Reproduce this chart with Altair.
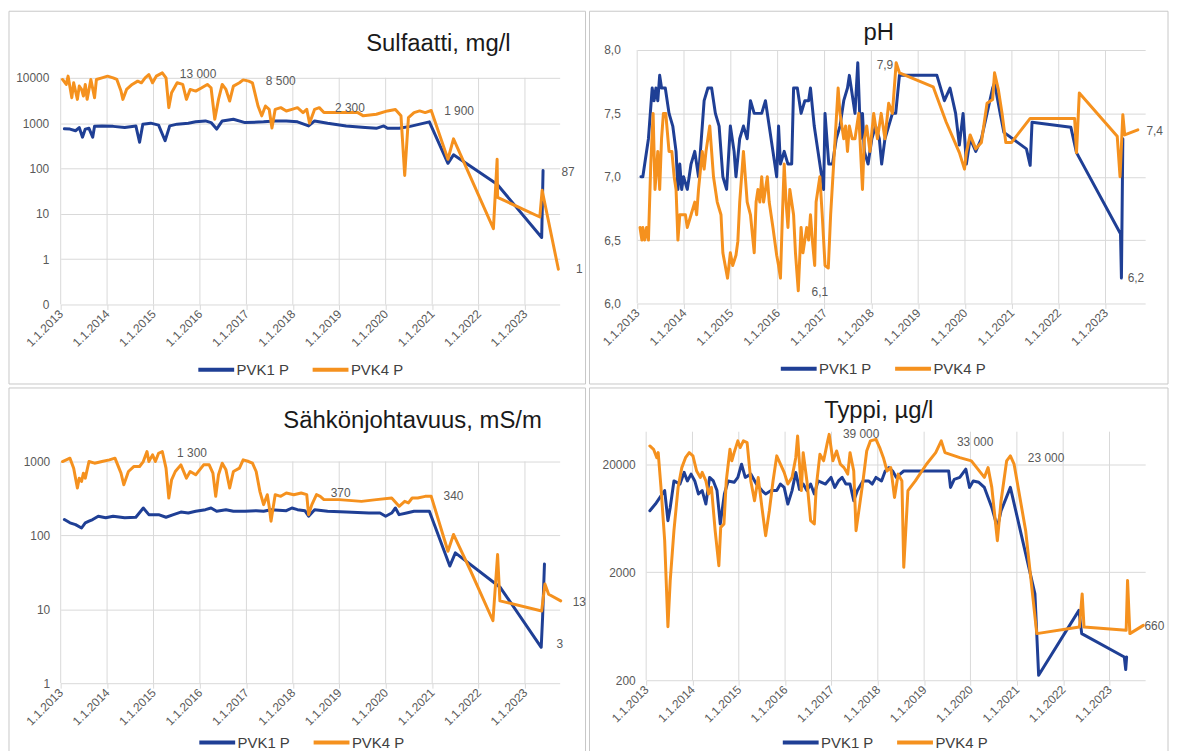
import altair as alt
import pandas as pd

BLUE = "#1f3f95"
ORANGE = "#f5911e"
GRID = "#d9d9d9"
FRAME = "#c8c8c8"
TXT = "#595959"
FONT = "Liberation Sans"
SERIES = ["PVK1 P", "PVK4 P"]
YEARS = list(range(2013, 2024))

# ---------------- Sulfaatti, mg/l ----------------
sulf_pvk1 = [(2013.08, 750), (2013.20, 740), (2013.32, 680), (2013.40, 800), (2013.47, 490), (2013.53, 740),
             (2013.61, 770), (2013.69, 490), (2013.73, 850), (2013.89, 870), (2014.13, 850), (2014.38, 800),
             (2014.62, 870), (2014.70, 380), (2014.77, 950), (2014.94, 1000), (2015.11, 905), (2015.25, 410),
             (2015.35, 870), (2015.51, 950), (2015.75, 1000), (2015.91, 1070), (2016.12, 1120), (2016.24, 1030),
             (2016.36, 740), (2016.48, 1120), (2016.72, 1220), (2016.97, 1030), (2017.37, 1070), (2017.62, 1120),
             (2017.86, 1120), (2018.10, 1070), (2018.34, 870), (2018.47, 1120), (2018.75, 1000), (2019.15, 870),
             (2019.56, 800), (2019.80, 770), (2019.96, 870), (2020.04, 770), (2020.29, 770), (2020.53, 850),
             (2020.94, 1070), (2021.34, 130), (2021.46, 200), (2022.40, 45), (2023.36, 3), (2023.39, 90)]
sulf_pvk4 = [(2013.04, 9200), (2013.12, 7150), (2013.16, 10900), (2013.24, 3650), (2013.28, 7770), (2013.36, 3350),
             (2013.40, 6570), (2013.45, 5550), (2013.49, 3970), (2013.53, 7150), (2013.57, 3350), (2013.65, 9200),
             (2013.73, 3650), (2013.77, 9200), (2013.89, 10000), (2014.01, 10880), (2014.13, 10000), (2014.21, 9200),
             (2014.30, 5100), (2014.34, 3350), (2014.42, 5550), (2014.54, 7150), (2014.66, 8450), (2014.74, 7770),
             (2014.82, 10000), (2014.90, 11830), (2014.98, 7770), (2015.06, 10880), (2015.19, 12870), (2015.27, 10000),
             (2015.33, 2200), (2015.39, 4690), (2015.51, 7770), (2015.63, 7150), (2015.71, 3350), (2015.79, 5550),
             (2015.91, 5100), (2016.04, 6040), (2016.16, 7150), (2016.24, 6040), (2016.32, 1220), (2016.40, 3350),
             (2016.48, 7150), (2016.56, 5550), (2016.64, 3080), (2016.72, 6570), (2016.85, 7770), (2016.93, 9000),
             (2017.05, 8450), (2017.13, 7770), (2017.25, 2390), (2017.33, 1450), (2017.41, 2390), (2017.49, 2020),
             (2017.55, 780), (2017.62, 2020), (2017.74, 2200), (2017.86, 1860), (2017.98, 2020), (2018.10, 2200),
             (2018.22, 1710), (2018.30, 2020), (2018.36, 1000), (2018.47, 2020), (2018.57, 2200), (2018.67, 1710),
             (2019.00, 1710), (2019.40, 1710), (2019.52, 1450), (2019.80, 1570), (2020.04, 1860), (2020.21, 2000),
             (2020.33, 1450), (2020.41, 70), (2020.49, 1330), (2020.61, 1710), (2020.73, 1860), (2020.85, 1710),
             (2020.98, 1900), (2021.34, 160), (2021.46, 450), (2022.32, 4.7), (2022.40, 160), (2022.41, 23),
             (2023.32, 8.5), (2023.37, 33), (2023.72, 0.6)]
sulf_labels = [("13 000", 2015.96, 11830), ("8 500", 2017.74, 8450), ("2 300", 2019.23, 2200),
               ("1 900", 2021.58, 1860), ("87", 2023.93, 83), ("1", 2024.17, 0.62)]

# ---------------- pH ----------------
ph_pvk1 = [(2013.08, 7.0), (2013.12, 7.0), (2013.24, 7.3), (2013.32, 7.7), (2013.36, 7.6), (2013.40, 7.7),
           (2013.44, 7.6), (2013.48, 7.8), (2013.52, 7.7), (2013.60, 7.7), (2013.68, 7.5), (2013.76, 7.4),
           (2013.83, 7.2), (2013.87, 6.9), (2013.91, 7.1), (2013.95, 6.9), (2013.99, 7.0), (2014.07, 6.9),
           (2014.15, 7.1), (2014.23, 7.2), (2014.31, 7.0), (2014.39, 7.4), (2014.43, 7.6), (2014.51, 7.7),
           (2014.59, 7.7), (2014.67, 7.5), (2014.75, 7.4), (2014.83, 7.0), (2014.91, 6.9), (2014.99, 7.4),
           (2015.07, 7.2), (2015.11, 7.0), (2015.19, 7.3), (2015.27, 7.4), (2015.35, 7.3), (2015.42, 7.6),
           (2015.50, 7.5), (2015.58, 7.5), (2015.66, 7.5), (2015.74, 7.6), (2015.82, 7.4), (2015.90, 7.2),
           (2015.98, 7.0), (2016.02, 7.4), (2016.06, 7.1), (2016.14, 7.2), (2016.22, 7.1), (2016.30, 7.1),
           (2016.34, 7.7), (2016.42, 7.7), (2016.50, 7.5), (2016.58, 7.6), (2016.66, 7.6), (2016.70, 7.7),
           (2016.78, 7.4), (2016.86, 7.2), (2016.94, 7.0), (2016.98, 6.9), (2017.01, 7.5), (2017.09, 7.1),
           (2017.17, 7.1), (2017.25, 7.3), (2017.33, 7.4), (2017.41, 7.6), (2017.49, 7.7), (2017.53, 7.8),
           (2017.57, 7.7), (2017.65, 7.5), (2017.71, 7.9), (2017.77, 7.3), (2017.81, 7.5), (2017.85, 7.2),
           (2017.93, 7.1), (2018.01, 7.3), (2018.09, 7.4), (2018.17, 7.3), (2018.22, 7.1), (2018.29, 7.3),
           (2018.37, 7.4), (2018.45, 7.5), (2018.52, 7.5), (2018.60, 7.8), (2019.40, 7.8), (2019.56, 7.6),
           (2019.68, 7.7), (2019.80, 7.5), (2019.88, 7.25), (2019.96, 7.5), (2020.03, 7.1), (2020.11, 7.3),
           (2020.23, 7.2), (2020.35, 7.3), (2020.47, 7.5), (2020.59, 7.7), (2020.63, 7.74), (2020.75, 7.5),
           (2020.83, 7.35), (2021.31, 7.22), (2021.39, 7.09), (2021.43, 7.43), (2022.26, 7.39), (2022.38, 7.19),
           (2023.32, 6.55), (2023.34, 6.2), (2023.37, 7.3)]
ph_pvk4 = [(2013.06, 6.6), (2013.10, 6.5), (2013.12, 6.6), (2013.16, 6.5), (2013.20, 6.6), (2013.24, 6.5),
           (2013.29, 7.1), (2013.34, 7.5), (2013.38, 6.9), (2013.44, 7.2), (2013.48, 6.9), (2013.52, 7.3),
           (2013.56, 7.5), (2013.61, 7.5), (2013.68, 7.2), (2013.74, 7.2), (2013.79, 7.0), (2013.83, 6.9),
           (2013.87, 6.5), (2013.91, 6.7), (2013.99, 6.7), (2014.03, 6.7), (2014.07, 6.6), (2014.15, 6.7),
           (2014.23, 6.8), (2014.27, 6.7), (2014.31, 6.9), (2014.39, 7.2), (2014.43, 7.06), (2014.47, 7.2),
           (2014.55, 7.4), (2014.63, 7.0), (2014.71, 6.8), (2014.79, 6.7), (2014.83, 6.4), (2014.88, 6.3),
           (2014.93, 6.2), (2014.99, 6.4), (2015.04, 6.3), (2015.11, 6.38), (2015.15, 6.49), (2015.19, 6.8),
           (2015.27, 7.2), (2015.31, 7.0), (2015.35, 6.8), (2015.42, 6.7), (2015.50, 6.4), (2015.54, 6.8),
           (2015.58, 6.9), (2015.62, 6.8), (2015.66, 7.0), (2015.70, 6.8), (2015.74, 6.9), (2015.78, 7.0),
           (2015.82, 6.8), (2015.90, 6.6), (2015.98, 6.38), (2016.02, 6.3), (2016.06, 6.2), (2016.10, 6.67),
           (2016.14, 7.1), (2016.18, 6.8), (2016.22, 6.6), (2016.26, 6.9), (2016.34, 6.7), (2016.38, 6.4),
           (2016.44, 6.1), (2016.50, 6.6), (2016.54, 6.4), (2016.62, 6.6), (2016.66, 6.5), (2016.70, 6.7),
           (2016.74, 6.5), (2016.79, 6.3), (2016.82, 6.8), (2016.90, 7.0), (2016.95, 6.7), (2017.01, 6.3),
           (2017.08, 6.28), (2017.13, 6.7), (2017.21, 7.2), (2017.29, 7.7), (2017.33, 7.5), (2017.41, 7.3),
           (2017.45, 7.4), (2017.49, 7.2), (2017.53, 7.4), (2017.59, 7.3), (2017.65, 7.3), (2017.73, 7.5),
           (2017.81, 6.9), (2017.85, 7.3), (2017.90, 7.4), (2017.97, 7.2), (2018.05, 7.5), (2018.13, 7.3),
           (2018.21, 7.5), (2018.29, 7.3), (2018.37, 7.58), (2018.45, 7.5), (2018.53, 7.9), (2018.60, 7.82),
           (2019.32, 7.71), (2019.60, 7.43), (2019.88, 7.19), (2019.99, 7.06), (2020.03, 7.19), (2020.11, 7.33),
           (2020.23, 7.22), (2020.35, 7.27), (2020.47, 7.58), (2020.59, 7.61), (2020.63, 7.82), (2020.71, 7.69),
           (2020.79, 7.5), (2020.87, 7.27), (2020.99, 7.27), (2021.39, 7.46), (2022.34, 7.46), (2022.38, 7.19),
           (2022.44, 7.66), (2023.25, 7.32), (2023.31, 7.0), (2023.37, 7.49), (2023.41, 7.33), (2023.69, 7.37)]
ph_labels = [("7,9", 2018.29, 7.88), ("6,1", 2016.90, 6.09), ("6,2", 2023.65, 6.2), ("7,4", 2024.05, 7.36)]

# ---------------- Sähkönjohtavuus, mS/m ----------------
cond_pvk1 = [(2013.08, 164), (2013.20, 148), (2013.32, 140), (2013.45, 126), (2013.53, 148), (2013.61, 156),
             (2013.69, 164), (2013.81, 182), (2013.97, 173), (2014.13, 182), (2014.38, 173), (2014.62, 176),
             (2014.78, 235), (2014.90, 191), (2015.11, 191), (2015.27, 176), (2015.43, 191), (2015.59, 207),
             (2015.75, 201), (2015.91, 212), (2016.12, 223), (2016.24, 235), (2016.36, 212), (2016.56, 223),
             (2016.72, 212), (2016.97, 212), (2017.21, 216), (2017.37, 212), (2017.53, 223), (2017.86, 216),
             (2017.98, 235), (2018.10, 223), (2018.26, 216), (2018.34, 182), (2018.47, 223), (2018.75, 212),
             (2019.15, 207), (2019.64, 201), (2019.88, 201), (2020.00, 182), (2020.13, 201), (2020.21, 235),
             (2020.29, 191), (2020.45, 201), (2020.61, 212), (2020.94, 212), (2021.38, 38.5), (2021.50, 58),
             (2022.47, 19.7), (2023.35, 3.06), (2023.38, 7.8), (2023.42, 41)]
cond_pvk4 = [(2013.04, 1000), (2013.12, 1053), (2013.20, 1110), (2013.28, 813), (2013.36, 438), (2013.40, 596),
             (2013.45, 538), (2013.49, 696), (2013.53, 596), (2013.61, 1000), (2013.73, 950), (2013.89, 1000),
             (2014.05, 1053), (2014.17, 1110), (2014.30, 696), (2014.36, 485), (2014.46, 733), (2014.58, 857),
             (2014.70, 857), (2014.78, 1000), (2014.86, 1365), (2014.90, 1000), (2014.98, 1230), (2015.04, 1000),
             (2015.11, 1295), (2015.19, 1365), (2015.27, 813), (2015.33, 321), (2015.39, 566), (2015.47, 733),
             (2015.59, 902), (2015.71, 596), (2015.79, 733), (2015.91, 661), (2016.08, 902), (2016.20, 902),
             (2016.28, 696), (2016.34, 338), (2016.40, 661), (2016.48, 950), (2016.56, 772), (2016.64, 438),
             (2016.72, 733), (2016.85, 813), (2016.93, 1053), (2017.05, 1000), (2017.13, 950), (2017.21, 733),
             (2017.29, 395), (2017.37, 261), (2017.45, 356), (2017.49, 248), (2017.53, 156), (2017.62, 356),
             (2017.74, 338), (2017.86, 375), (2018.02, 356), (2018.18, 375), (2018.30, 356), (2018.34, 191),
             (2018.41, 261), (2018.51, 356), (2018.59, 338), (2018.67, 305), (2018.99, 305), (2019.48, 289),
             (2019.80, 305), (2020.13, 321), (2020.29, 248), (2020.41, 289), (2020.49, 275), (2020.57, 321),
             (2020.69, 321), (2020.85, 338), (2020.98, 338), (2021.34, 61), (2021.46, 103), (2021.83, 33),
             (2022.31, 7.0), (2022.41, 55), (2022.46, 13), (2023.36, 9.5), (2023.43, 22), (2023.51, 16),
             (2023.77, 13)]
cond_labels = [("1 300", 2015.83, 1295), ("370", 2019.03, 375), ("340", 2021.46, 338),
               ("13", 2024.17, 12.4), ("3", 2023.75, 3.4)]

# ---------------- Typpi, µg/l ----------------
n_pvk1 = [(2013.08, 7410), (2013.20, 8550), (2013.32, 10200), (2013.40, 11400), (2013.47, 6000), (2013.52, 7960),
          (2013.60, 14000), (2013.73, 13100), (2013.82, 16800), (2013.89, 14000), (2013.97, 16200), (2014.05, 14000),
          (2014.13, 10600), (2014.21, 11400), (2014.29, 8550), (2014.37, 15100), (2014.45, 14000), (2014.53, 11400),
          (2014.60, 5590), (2014.69, 10600), (2014.77, 14000), (2014.90, 13600), (2014.98, 15100), (2015.06, 20000),
          (2015.14, 15100), (2015.26, 16200), (2015.38, 13100), (2015.50, 11400), (2015.58, 10600), (2015.70, 11400),
          (2015.82, 11400), (2015.90, 13100), (2015.98, 12200), (2016.06, 8550), (2016.15, 11400), (2016.23, 16800),
          (2016.31, 11700), (2016.39, 13100), (2016.47, 11400), (2016.55, 13100), (2016.63, 10600), (2016.71, 14000),
          (2016.87, 13100), (2016.99, 15100), (2017.07, 12200), (2017.15, 14000), (2017.23, 15100), (2017.31, 13100),
          (2017.40, 13100), (2017.48, 9180), (2017.56, 11400), (2017.68, 14000), (2017.80, 14000), (2017.88, 13100),
          (2017.96, 15100), (2018.08, 14000), (2018.16, 17300), (2018.24, 18600), (2018.32, 17300), (2018.40, 15100),
          (2018.48, 16200), (2018.56, 17300), (2019.53, 17300), (2019.57, 12200), (2019.65, 14500), (2019.77, 15100),
          (2019.90, 18000), (2019.98, 12200), (2020.06, 14000), (2020.18, 13600), (2020.30, 12200), (2020.46, 7960),
          (2020.58, 5200), (2020.66, 7410), (2020.86, 12200), (2021.39, 1260), (2021.47, 222), (2022.34, 886),
          (2022.40, 540), (2023.32, 328), (2023.35, 251), (2023.37, 328)]
n_pvk4 = [(2013.08, 29500), (2013.16, 27500), (2013.23, 23000), (2013.26, 25600), (2013.32, 12200), (2013.40, 3920),
          (2013.47, 625), (2013.52, 1680), (2013.60, 4850), (2013.69, 12200), (2013.77, 18600), (2013.85, 23000),
          (2013.93, 25600), (2014.01, 23900), (2014.09, 17300), (2014.17, 15100), (2014.21, 16800), (2014.29, 14000),
          (2014.35, 10600), (2014.41, 12200), (2014.49, 4850), (2014.57, 2300), (2014.61, 5200), (2014.68, 5590),
          (2014.73, 14000), (2014.81, 27500), (2014.85, 21500), (2014.90, 25600), (2014.98, 32900), (2015.03, 28500),
          (2015.10, 32900), (2015.18, 31700), (2015.26, 14000), (2015.34, 9180), (2015.42, 15100), (2015.50, 7960),
          (2015.58, 4360), (2015.66, 7410), (2015.74, 14000), (2015.82, 23900), (2015.90, 20000), (2015.98, 16800),
          (2016.06, 13100), (2016.15, 15100), (2016.23, 23000), (2016.27, 36500), (2016.35, 11400), (2016.39, 25600),
          (2016.47, 14000), (2016.55, 6000), (2016.63, 5590), (2016.67, 12200), (2016.75, 24700), (2016.83, 21500),
          (2016.91, 31700), (2016.95, 37800), (2017.03, 21500), (2017.11, 26500), (2017.19, 20000), (2017.27, 18600),
          (2017.35, 16200), (2017.40, 25600), (2017.48, 17300), (2017.53, 4850), (2017.60, 7960), (2017.68, 14000),
          (2017.76, 26500), (2017.84, 32900), (2017.96, 34000), (2018.04, 28500), (2018.12, 23000), (2018.20, 17300),
          (2018.28, 18600), (2018.36, 9850), (2018.44, 16200), (2018.52, 14000), (2018.56, 2220), (2018.65, 11400),
          (2018.81, 14000), (2019.05, 20000), (2019.25, 25600), (2019.37, 32900), (2019.45, 25600), (2019.77, 23000),
          (2020.02, 21500), (2020.30, 15100), (2020.38, 18600), (2020.46, 12200), (2020.58, 3920), (2020.66, 9180),
          (2020.78, 21500), (2020.86, 23900), (2020.94, 20000), (2021.19, 4850), (2021.43, 540), (2022.35, 621),
          (2022.41, 1260), (2022.45, 621), (2023.36, 579), (2023.39, 1680), (2023.44, 540), (2023.73, 644)]
n_labels = [("39 000", 2017.64, 37800), ("33 000", 2020.10, 32400), ("23 000", 2021.63, 22700), ("660", 2023.97, 630)]


def to_date(y):
    yr = int(y)
    start = pd.Timestamp(yr, 1, 1)
    end = pd.Timestamp(yr + 1, 1, 1)
    return start + (end - start) * (y - yr)


ONE = pd.DataFrame({"k": [0]})


def panel(pvk1, pvk4, labels, title, width, height, x_end, y_scale, y_values, y_label_expr,
          y_pad, grid_span, frame, title_pos, legend_pos):
    df = pd.DataFrame(
        [{"date": to_date(y), "value": v, "series": SERIES[0]} for y, v in pvk1]
        + [{"date": to_date(y), "value": v, "series": SERIES[1]} for y, v in pvk4]
    )
    ldf = pd.DataFrame([{"label": t, "date": to_date(y), "value": v} for t, y, v in labels])
    gdf = pd.DataFrame({
        "date": [pd.Timestamp(y, 1, 1) for y in YEARS],
        "lo": [grid_span[0]] * len(YEARS),
        "hi": [grid_span[1]] * len(YEARS),
    })

    x_axis = alt.Axis(
        values=[alt.DateTime(year=y, month=1, date=1) for y in YEARS],
        format="%-d.%-m.%Y", labelAngle=315, labelAlign="right", labelBaseline="middle",
        labelPadding=2, labelFontSize=12, labelColor=TXT, labelFont=FONT, labelOverlap=False,
        grid=False, domain=False, ticks=True, tickColor=GRID, tickSize=5, title=None,
    )
    x_scale = alt.Scale(domain=[alt.DateTime(year=2013, month=1, date=1), x_end])
    y_axis = alt.Axis(
        values=y_values, labelExpr=y_label_expr, grid=True, gridColor=GRID, gridWidth=1,
        domain=False, ticks=False, labelPadding=y_pad, labelFontSize=12, labelColor=TXT,
        labelFont=FONT, title=None,
    )

    fx, fx2, fy, fy2 = frame
    frame_layer = alt.Chart(ONE).mark_rect(fillOpacity=0, stroke=FRAME, strokeWidth=1).encode(
        x=alt.value(fx), x2=alt.value(fx2), y=alt.value(fy), y2=alt.value(fy2)
    )
    vgrid = alt.Chart(gdf).mark_rule(color=GRID, strokeWidth=1).encode(
        x=alt.X("date:T", scale=x_scale, axis=x_axis),
        y=alt.Y("lo:Q", scale=y_scale, axis=y_axis),
        y2="hi:Q",
    )
    lines = alt.Chart(df).mark_line(strokeWidth=3, strokeJoin="round", strokeCap="round").encode(
        x=alt.X("date:T", scale=x_scale, axis=x_axis),
        y=alt.Y("value:Q", scale=y_scale, axis=y_axis),
        color=alt.Color(
            "series:N",
            scale=alt.Scale(domain=SERIES, range=[BLUE, ORANGE]),
            legend=alt.Legend(
                title=None, orient="none", legendX=legend_pos[0], legendY=legend_pos[1],
                direction="horizontal", symbolType="stroke", symbolSize=1300, symbolStrokeWidth=4,
                labelFontSize=15, labelFont=FONT, labelColor="#404040", labelOffset=0,
                columnPadding=15, padding=0,
            ),
        ),
    )
    label_layer = alt.Chart(ldf).mark_text(fontSize=12, font=FONT, color=TXT).encode(
        x="date:T", y="value:Q", text="label:N"
    )
    title_layer = alt.Chart(ONE).mark_text(
        text=title, fontSize=24, font=FONT, color="#1a1a1a", align="center", baseline="alphabetic"
    ).encode(x=alt.value(title_pos[0]), y=alt.value(title_pos[1]))

    return alt.layer(frame_layer, vgrid, lines, label_layer, title_layer).properties(
        width=width, height=height
    )


p1 = panel(
    sulf_pvk1, sulf_pvk4, sulf_labels, "Sulfaatti, mg/l", 502, 256,
    alt.DateTime(year=2023, month=10, date=1),
    alt.Scale(type="log", domain=[0.1, 41100], nice=False),
    [0.1, 1, 10, 100, 1000, 10000], "datum.value < 1 ? '0' : format(datum.value, 'd')", 12,
    (0.1, 10000), (-52, 528, -39, 336), (380, 1), (136, 301),
)
p2 = panel(
    ph_pvk1, ph_pvk4, ph_labels, "pH", 511, 255,
    alt.DateTime(year=2023, month=11, date=6),
    alt.Scale(type="linear", domain=[6, 8], nice=False, zero=False),
    [6, 6.5, 7, 7.5, 8], "replace(format(datum.value, '.1f'), '.', ',')", 17,
    (6, 8), (-48, 534, -39, 336), (243, -10), (142, 300),
)
p3 = panel(
    cond_pvk1, cond_pvk4, cond_labels, "Sähkönjohtavuus,  mS/m", 502, 253,
    alt.DateTime(year=2023, month=10, date=1),
    alt.Scale(type="log", domain=[1, 2533], nice=False),
    [1, 10, 100, 1000], "format(datum.value, 'd')", 11,
    (1, 1000), (-52, 528, -44, 325), (354, -4), (137, 292),
)
p4 = panel(
    n_pvk1, n_pvk4, n_labels, "Typpi, µg/l", 502, 250,
    alt.DateTime(year=2023, month=10, date=9),
    alt.Scale(type="log", domain=[200, 40000], nice=False),
    [200, 2000, 20000], "format(datum.value, 'd')", 11,
    (200, 40000), (-57, 525, -44, 325), (234, -14), (135, 292),
)

row1 = alt.hconcat(p1, p2, spacing=2).resolve_scale(x="independent", y="independent", color="independent")
row2 = alt.hconcat(p3, p4, spacing=2).resolve_scale(x="independent", y="independent", color="independent")

chart = (
    alt.vconcat(row1, row2, spacing=2)
    .resolve_scale(x="independent", y="independent", color="independent")
    .properties(padding=0, background="white")
    .configure(font=FONT)
    .configure_view(strokeWidth=0)
)

chart.save("out.html", embed_options={"renderer": "svg", "actions": False})
